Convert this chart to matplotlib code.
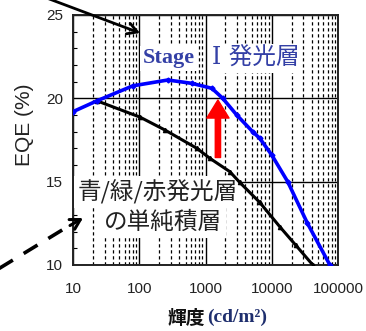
import matplotlib
matplotlib.use("Agg")
import matplotlib.pyplot as plt
from matplotlib.ticker import LogLocator, FixedLocator, FixedFormatter, MultipleLocator, NullFormatter
from matplotlib.patches import FancyArrowPatch
from matplotlib.lines import Line2D

# Luminance (cd/m2) and EQE (%) for the two device stacks
stage1_lum = [10, 23, 80, 270, 620, 1250, 1820, 2960, 5140, 6600, 10000, 17400, 34600, 75400]
stage1_eqe = [19.2, 19.85, 20.75, 21.1, 20.9, 20.6, 20.0, 19.0, 18.0, 17.6, 16.6, 15.0, 12.5, 10.0]

stack_lum = [23, 103, 244, 741, 1165, 2330, 3300, 6610, 13200, 22900, 41700]
stack_eqe = [19.85, 18.87, 18.1, 17.0, 16.4, 15.6, 14.95, 13.75, 12.3, 11.2, 10.0]

x_ticks = [10, 100, 1000, 10000, 100000]
x_tick_labels = ["10", "100", "1000", "10000", "100000"]
y_ticks = [10, 15, 20, 25]
y_tick_labels = ["10", "15", "20", "25"]

stage1_label_head = "Stage"
stage1_label_tail = "Ⅰ 発光層"
stack_label_1 = "青/緑/赤発光層"
stack_label_2 = "の単純積層"

# Red arrow: EQE gain at ~1500 cd/m2
gain_lum = 1540
gain_from, gain_to = 16.45, 19.9

W, H = 366, 331
fig = plt.figure(figsize=(W / 100, H / 100), dpi=100)
ax = fig.add_axes([73 / W, 1 - 265 / H, 265 / W, 250 / H])

ax.set_xscale("log")
ax.set_xlim(10, 100000)
ax.set_ylim(10, 25)

# grid: solid decades / dashed minors, solid horizontals at major y
ax.xaxis.set_major_locator(FixedLocator(x_ticks))
ax.xaxis.set_major_formatter(FixedFormatter(x_tick_labels))
ax.xaxis.set_minor_locator(LogLocator(base=10, subs=range(2, 10), numticks=20))
ax.xaxis.set_minor_formatter(NullFormatter())
ax.yaxis.set_major_locator(FixedLocator(y_ticks))
ax.yaxis.set_major_formatter(FixedFormatter(y_tick_labels))
ax.yaxis.set_minor_locator(MultipleLocator(1))

ax.grid(True, which="major", color="black", linewidth=1.0, linestyle="-")
ax.grid(True, which="minor", axis="x", color="black", linewidth=0.9,
        linestyle=(0, (2.6, 2.2)))

ax.tick_params(axis="both", which="major", length=0)
ax.tick_params(axis="x", which="minor", length=0)
ax.tick_params(axis="y", which="minor", direction="in", length=3, width=0.8)
ax.tick_params(axis="x", which="major", pad=12)
ax.tick_params(axis="y", which="major", pad=7)
for lab in ax.get_xticklabels() + ax.get_yticklabels():
    lab.set_fontfamily("Liberation Sans")
    lab.set_fontsize(11)
    lab.set_color("#222222")

for s in ax.spines.values():
    s.set_linewidth(1.4)
    s.set_color("#222222")

ax.plot(stack_lum, stack_eqe, color="black", linewidth=2.2, marker="^",
        markersize=3, zorder=4)
ax.plot(stage1_lum, stage1_eqe, color="#0000ff", linewidth=2.6, marker="D",
        markersize=2.5, zorder=5)

# labels inside the plot
blue_txt = "#3440a6"
head = ax.text(0.264, 0.826, stage1_label_head, transform=ax.transAxes, ha="left",
               va="center", fontsize=16, color=blue_txt, fontweight="bold",
               family="Liberation Serif",
               bbox=dict(facecolor="white", edgecolor="none", pad=2), zorder=3)
ax.annotate(stage1_label_tail, xy=(1, 0.5), xycoords=head, xytext=(12, 0),
            textcoords="offset points", ha="left", va="center", fontsize=17,
            color=blue_txt, fontweight="normal",
            family=["DejaVu Serif", "Noto Sans CJK JP"],
            bbox=dict(facecolor="white", edgecolor="none", pad=2), zorder=3)

ax.text(0.018, 0.292, stack_label_1, transform=ax.transAxes, ha="left", va="center",
        fontsize=17, color="#222222",
        family=["Noto Sans CJK JP", "DejaVu Sans"],
        bbox=dict(facecolor="white", edgecolor="none", pad=3), zorder=3)
ax.text(0.34, 0.172, stack_label_2, transform=ax.transAxes, ha="center", va="center",
        fontsize=17, color="#222222",
        family=["Noto Sans CJK JP", "DejaVu Sans"],
        bbox=dict(facecolor="white", edgecolor="none", pad=3), zorder=3)

# red arrow
red = FancyArrowPatch((gain_lum, gain_from), (gain_lum, gain_to),
                      arrowstyle="simple,head_length=13,head_width=16,tail_width=3.8",
                      mutation_scale=1, color="#ff0000", shrinkA=0, shrinkB=0, zorder=6)
ax.add_patch(red)

# pointer arrows coming from outside the axes
fig.patches.append(FancyArrowPatch((20 / W, 1 + 12 / H), (140 / W, 1 - 33 / H),
                                   transform=fig.transFigure, arrowstyle="->,head_length=7,head_width=4",
                                   mutation_scale=1, color="black", linewidth=2.0,
                                   shrinkA=0, shrinkB=0, zorder=7))
fig.lines.append(Line2D([-5 / W, 72 / W], [1 - 271 / H, 1 - 224 / H], transform=fig.transFigure,
                        color="black", linewidth=2.6, linestyle=(0, (4.5, 3.5)), zorder=7))
fig.patches.append(FancyArrowPatch((70 / W, 1 - 225.5 / H), (83 / W, 1 - 218 / H),
                                   transform=fig.transFigure, arrowstyle="->,head_length=7,head_width=4",
                                   mutation_scale=1, color="black", linewidth=2.2,
                                   shrinkA=0, shrinkB=0, zorder=7))

# axis titles
fig.text(25 / W, 1 - 125 / H, "EQE (%)", rotation=90, ha="center", va="center",
         fontsize=15, family="Liberation Sans", color="#222222")
fig.text(205 / W, 1 - 318 / H, "輝度", ha="right", va="center", fontsize=13.5,
         fontweight="bold", family="Noto Sans CJK JP", color="#111111")
fig.text(207 / W, 1 - 317 / H, "(cd/m²)", ha="left", va="center", fontsize=14,
         fontweight="bold", family="Liberation Serif", color="#1f2f6e")

fig.savefig("out.png", dpi=100)
